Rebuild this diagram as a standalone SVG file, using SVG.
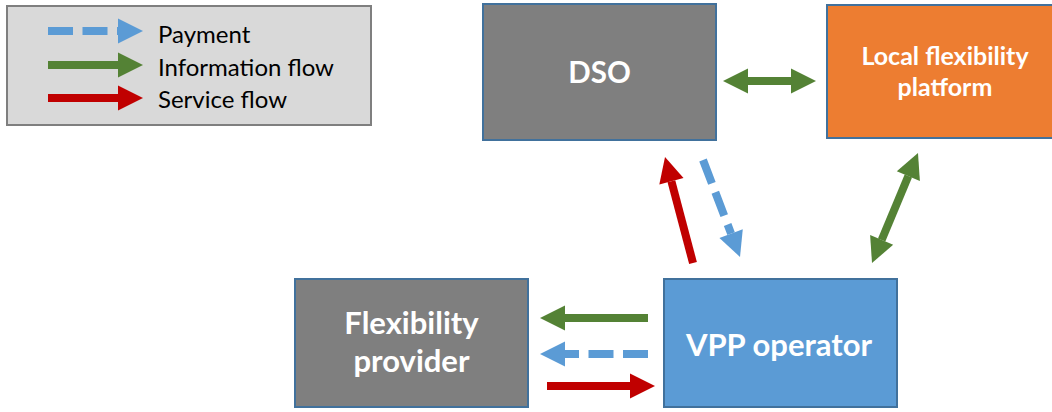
<svg xmlns="http://www.w3.org/2000/svg" width="1052" height="412" viewBox="0 0 1052 412">
  <style>
    .legend-box { fill: #d9d9d9; stroke: #7f7f7f; stroke-width: 2; }
    .legend-text { font-family: Lato, "Liberation Sans", sans-serif; font-size: 24px; fill: #000000; }
    .box { stroke: #41719c; stroke-width: 2; }
    .label { font-family: Lato, "Liberation Sans", sans-serif; font-weight: bold; fill: #ffffff; text-anchor: middle; }
    .flow { fill: none; stroke-width: 8; stroke-linecap: butt; }
    .pay { stroke: #5b9bd5; stroke-dasharray: 25 9.5; marker-end: url(#head-blue); }
    .info { stroke: #548235; marker-end: url(#head-green); }
    .info2 { stroke: #548235; marker-start: url(#head-green); marker-end: url(#head-green); }
    .serv { stroke: #c00000; marker-end: url(#head-red); }
  </style>
  <defs>
    <marker id="head-blue" markerUnits="userSpaceOnUse" markerWidth="25" markerHeight="25" refX="0" refY="12.5" orient="auto-start-reverse" overflow="visible">
      <path d="M0,0 L25,12.5 L0,25 Z" fill="#5b9bd5"/>
    </marker>
    <marker id="head-green" markerUnits="userSpaceOnUse" markerWidth="25" markerHeight="25" refX="0" refY="12.5" orient="auto-start-reverse" overflow="visible">
      <path d="M0,0 L25,12.5 L0,25 Z" fill="#548235"/>
    </marker>
    <marker id="head-red" markerUnits="userSpaceOnUse" markerWidth="25" markerHeight="25" refX="0" refY="12.5" orient="auto-start-reverse" overflow="visible">
      <path d="M0,0 L25,12.5 L0,25 Z" fill="#c00000"/>
    </marker>
  </defs>

  <rect width="1052" height="412" fill="#ffffff"/>

  <!-- Legend -->
  <g id="legend">
    <rect class="legend-box" x="7" y="6" width="364" height="119"/>
    <line class="flow pay" x1="48" y1="31" x2="118" y2="31"/>
    <line class="flow info" x1="48" y1="65" x2="118" y2="65"/>
    <line class="flow serv" x1="48" y1="98" x2="118" y2="98"/>
    <text class="legend-text" x="158" y="43">Payment</text>
    <text class="legend-text" x="158" y="76">Information flow</text>
    <text class="legend-text" x="158" y="108">Service flow</text>
  </g>

  <!-- Nodes -->
  <g id="dso">
    <rect class="box" x="483" y="4" width="233" height="136" fill="#7f7f7f"/>
    <text class="label" x="599.5" y="83" font-size="29.5">DSO</text>
  </g>
  <g id="local-flexibility-platform">
    <rect class="box" x="827" y="5" width="236" height="133" fill="#ed7d31"/>
    <text class="label" x="945" y="65" font-size="25">Local flexibility</text>
    <text class="label" x="945" y="96" font-size="25">platform</text>
  </g>
  <g id="flexibility-provider">
    <rect class="box" x="295" y="279" width="233" height="128" fill="#7f7f7f"/>
    <text class="label" x="411.5" y="334" font-size="31">Flexibility</text>
    <text class="label" x="411.5" y="372" font-size="31">provider</text>
  </g>
  <g id="vpp-operator">
    <rect class="box" x="664" y="279" width="233" height="128" fill="#5b9bd5"/>
    <text class="label" x="779" y="356" font-size="31">VPP operator</text>
  </g>

  <!-- Connectors -->
  <g id="connectors">
    <line class="flow info2" x1="748" y1="81" x2="791" y2="81"/>
    <line class="flow serv" x1="693" y1="263" x2="671.4" y2="181.2"/>
    <line class="flow pay" x1="703" y1="160" x2="731.1" y2="233.6"/>
    <line class="flow info2" x1="881.65" y1="239.93" x2="908.35" y2="176.07"/>
    <line class="flow info" x1="648" y1="318" x2="565" y2="318"/>
    <line class="flow pay" x1="648" y1="354" x2="565" y2="354"/>
    <line class="flow serv" x1="547" y1="386" x2="630" y2="386"/>
  </g>
</svg>
